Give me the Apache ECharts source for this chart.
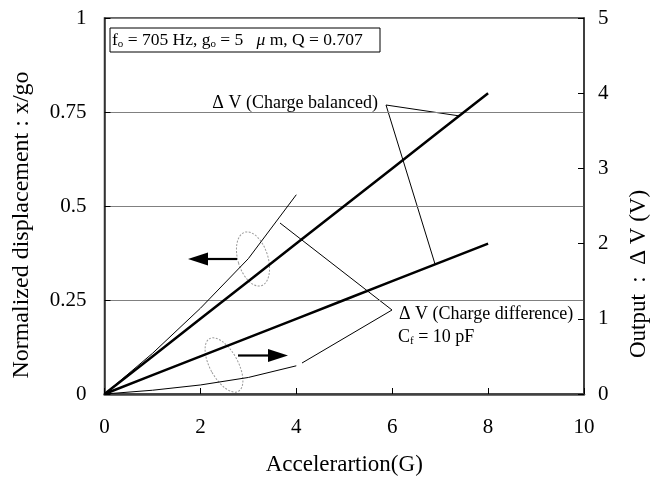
<!DOCTYPE html>
<html>
<head>
<meta charset="utf-8">
<script src="https://cdn.jsdelivr.net/npm/echarts@6/dist/echarts.min.js"></script>
<style>html,body{margin:0;padding:0;background:#fff}#c{width:662px;height:481px}</style>
</head>
<body>
<div id="c"></div>
<script>
// ---- data ----
const accelBalanced = [0, 1, 2, 3, 4, 5, 6, 7, 8];
const dispBalanced  = [0, 0.1, 0.2, 0.3, 0.4, 0.5, 0.6, 0.7, 0.8];     // left axis
const voltBalanced  = [0, 0.25, 0.5, 0.75, 1.0, 1.25, 1.5, 1.75, 2.0]; // right axis
const accelDiff = [0, 1, 2, 3, 4];
const dispDiff  = [0, 0.108, 0.228, 0.36, 0.53];  // left axis
const voltDiff  = [0, 0.05, 0.12, 0.22, 0.375];   // right axis
const xTicks = [0, 2, 4, 6, 8, 10];
const leftTicks = [0, 0.25, 0.5, 0.75, 1];
const rightTicks = [0, 1, 2, 3, 4, 5];

const F = '"Liberation Serif","Times New Roman",serif';
const zip = (xs, ys) => xs.map((x, i) => [x, ys[i]]);

const chart = echarts.init(document.getElementById('c'), null, {renderer: 'canvas'});
const axisLine = {show: true, lineStyle: {color: '#333', width: 1.5}};
chart.setOption({
  animation: false,
  backgroundColor: '#fff',
  grid: {left: 104.5, right: 78, top: 18, bottom: 85, show: true, borderColor: '#333', borderWidth: 1.5},
  xAxis: {
    type: 'value', min: xTicks[0], max: xTicks[xTicks.length - 1], interval: 2,
    name: 'Accelerartion(G)', nameLocation: 'middle', nameGap: 59,
    nameTextStyle: {fontFamily: F, fontSize: 23, color: '#000'},
    axisLine: {show: true, lineStyle: {color: '#404040', width: 2.5}},
    axisTick: {show: true, inside: true, length: 6, lineStyle: {color: '#000'}},
    axisLabel: {fontFamily: F, fontSize: 21, color: '#000', margin: 23},
    splitLine: {show: false}
  },
  yAxis: [{
    type: 'value', min: leftTicks[0], max: leftTicks[leftTicks.length - 1], interval: 0.25,
    axisLine: axisLine,
    axisTick: {show: true, inside: true, length: 6, lineStyle: {color: '#000'}},
    axisLabel: {fontFamily: F, fontSize: 21, color: '#000', margin: 18},
    splitLine: {show: true, lineStyle: {color: '#808080', width: 1}}
  }, {
    type: 'value', position: 'right', min: rightTicks[0], max: rightTicks[rightTicks.length - 1], interval: 1,
    axisLine: axisLine,
    axisTick: {show: true, inside: true, length: 6, lineStyle: {color: '#000'}},
    axisLabel: {fontFamily: F, fontSize: 21, color: '#000', margin: 14},
    splitLine: {show: false}
  }],
  series: [
    {type: 'line', yAxisIndex: 0, data: zip(accelBalanced, dispBalanced), symbol: 'none', lineStyle: {color: '#000', width: 2.5}},
    {type: 'line', yAxisIndex: 1, data: zip(accelBalanced, voltBalanced), symbol: 'none', lineStyle: {color: '#000', width: 2.5}},
    {type: 'line', yAxisIndex: 0, data: zip(accelDiff, dispDiff), symbol: 'none', lineStyle: {color: '#000', width: 1}},
    {type: 'line', yAxisIndex: 1, data: zip(accelDiff, voltDiff), symbol: 'none', lineStyle: {color: '#000', width: 1}}
  ],
  graphic: [
    // axis names
    {type: 'text', x: 22, y: 225, rotation: Math.PI / 2, style: {text: 'Normalized displacement : x/go', font: '24px ' + F, fill: '#000', align: 'center', verticalAlign: 'middle'}},
    {type: 'text', x: 639, y: 274, rotation: Math.PI / 2, style: {text: 'Output  :  Δ V (V)', font: '23px ' + F, fill: '#000', align: 'center', verticalAlign: 'middle'}},
    // parameter box
    {type: 'rect', shape: {x: 110, y: 28, width: 270, height: 24}, style: {fill: '#fff', stroke: '#000', lineWidth: 1}},
    {type: 'text', x: 112, y: 40, style: {
      text: 'f{s|o} = 705 Hz, g{s|o} = 5   {i|μ} m, Q = 0.707',
      font: '17.5px ' + F, fill: '#000', verticalAlign: 'middle',
      rich: {s: {fontSize: 11, fontFamily: F, padding: [8, 0, 0, 0]}, i: {fontSize: 17.5, fontFamily: F, fontStyle: 'italic'}}
    }},
    // ellipses
    {type: 'ellipse', x: 253, y: 259, rotation: 0.3, shape: {cx: 0, cy: 0, rx: 15, ry: 28}, style: {fill: 'none', stroke: '#999', lineWidth: 1, lineDash: [2, 1.5]}},
    {type: 'ellipse', x: 224, y: 365, rotation: 0.5, shape: {cx: 0, cy: 0, rx: 14, ry: 30}, style: {fill: 'none', stroke: '#999', lineWidth: 1, lineDash: [2, 1.5]}},
    // arrows
    {type: 'polyline', shape: {points: [[237, 259], [206, 259]]}, style: {stroke: '#000', lineWidth: 2.2}},
    {type: 'polygon', shape: {points: [[188, 259], [208, 252.5], [208, 265.5]]}, style: {fill: '#000'}},
    {type: 'polyline', shape: {points: [[238, 355.5], [270, 355.5]]}, style: {stroke: '#000', lineWidth: 2.2}},
    {type: 'polygon', shape: {points: [[288, 355.5], [268, 349], [268, 362]]}, style: {fill: '#000'}},
    // leaders
    {type: 'polyline', shape: {points: [[460, 116], [386, 105], [435, 264]]}, style: {stroke: '#000', lineWidth: 1, fill: 'none'}},
    {type: 'polyline', shape: {points: [[280, 223], [392, 310], [302, 363]]}, style: {stroke: '#000', lineWidth: 1, fill: 'none'}},
    // labels
    {type: 'text', x: 378, y: 103, style: {text: 'Δ V (Charge balanced)', font: '18px ' + F, fill: '#000', align: 'right', verticalAlign: 'middle'}},
    {type: 'text', x: 399, y: 314, style: {text: 'Δ V (Charge difference)', font: '18px ' + F, fill: '#000', align: 'left', verticalAlign: 'middle'}},
    {type: 'text', x: 398, y: 337, style: {
      text: 'C{s|f} = 10 pF', font: '18px ' + F, fill: '#000', align: 'left', verticalAlign: 'middle',
      rich: {s: {fontSize: 11, fontFamily: F, padding: [8, 0, 0, 0]}}
    }}
  ]
});
</script>
</body>
</html>
